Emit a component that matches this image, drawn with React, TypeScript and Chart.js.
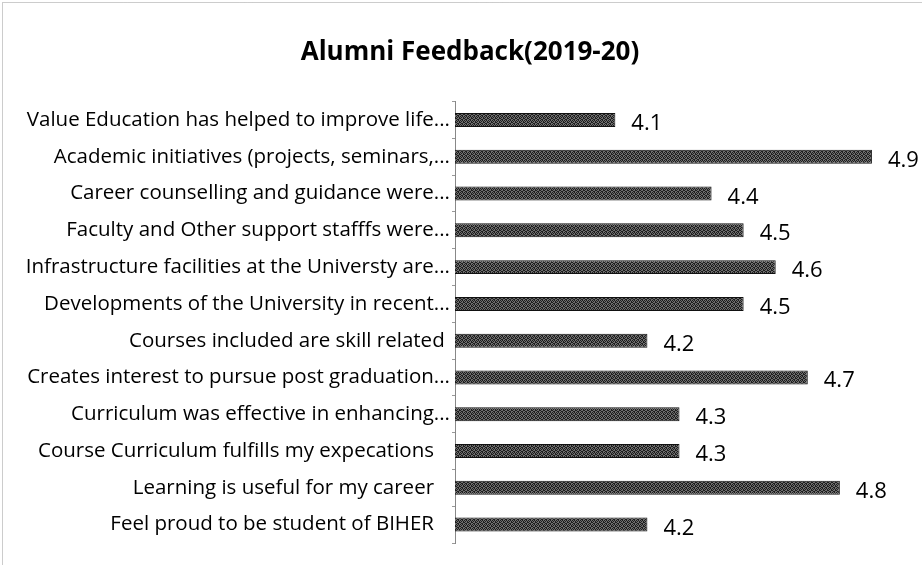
import { useEffect, useRef } from 'react';
import { Chart, registerables } from 'chart.js';

Chart.register(...registerables);

const chartTitle = 'Alumni Feedback(2019-20)';

const categories = [
  'Value Education has helped to improve life...',
  'Academic initiatives (projects, seminars,...',
  'Career counselling and guidance were...',
  'Faculty and Other support stafffs were...',
  'Infrastructure facilities at the Universty are...',
  'Developments of the University in recent...',
  'Courses included are skill related ',
  'Creates interest to pursue post graduation...',
  'Curriculum was effective in enhancing...',
  'Course Curriculum fulfills my expecations   ',
  'Learning is useful for my career   ',
  'Feel proud to be student of BIHER   ',
];

const scores = [4.1, 4.9, 4.4, 4.5, 4.6, 4.5, 4.2, 4.7, 4.3, 4.3, 4.8, 4.2];

const xMin = 3.6;
const xMax = 5.0;

const FONT = "'Open Sans', 'Noto Sans', 'DejaVu Sans', sans-serif";

function makePattern(): CanvasPattern | string {
  const c = document.createElement('canvas');
  c.width = 4;
  c.height = 4;
  const g = c.getContext('2d');
  if (!g) return '#555';
  g.fillStyle = '#6e6e6e';
  g.fillRect(0, 0, 4, 4);
  g.fillStyle = '#1e1e1e';
  g.fillRect(0, 0, 1, 1);
  g.fillRect(2, 0, 1, 1);
  g.fillRect(1, 1, 1, 1);
  g.fillRect(3, 1, 1, 1);
  g.fillRect(0, 2, 1, 1);
  g.fillRect(3, 2, 1, 1);
  g.fillRect(1, 3, 1, 1);
  g.fillRect(2, 3, 1, 1);
  const p = g.createPattern(c, 'repeat');
  return p || '#555';
}

const framePlugin = {
  id: 'frame',
  beforeDraw(chart: any) {
    const ctx = chart.ctx;
    ctx.save();
    ctx.fillStyle = '#fff';
    ctx.fillRect(0, 0, chart.width, chart.height);
    ctx.strokeStyle = '#999';
    ctx.lineWidth = 1;
    ctx.setLineDash([1, 1]);
    ctx.strokeRect(2.5, 2.5, chart.width + 20, chart.height + 20);
    ctx.restore();
  },
};

const titlePlugin = {
  id: 'customTitle',
  afterDraw(chart: any) {
    const ctx = chart.ctx;
    ctx.save();
    ctx.fillStyle = '#000';
    ctx.font = `bold 26px ${FONT}`;
    ctx.textAlign = 'center';
    ctx.textBaseline = 'alphabetic';
    ctx.fillText(chartTitle, 470, 60);
    ctx.restore();
  },
};

const valueLabelPlugin = {
  id: 'valueLabels',
  afterDatasetsDraw(chart: any) {
    const ctx = chart.ctx;
    const meta = chart.getDatasetMeta(0);
    ctx.save();
    ctx.fillStyle = '#000';
    ctx.font = `22px ${FONT}`;
    ctx.textAlign = 'left';
    ctx.textBaseline = 'alphabetic';
    meta.data.forEach((bar: any, i: number) => {
      ctx.fillText(scores[i].toFixed(1), bar.x + 16, bar.y + 10);
    });
    ctx.restore();
  },
};

export default function App() {
  const ref = useRef<HTMLCanvasElement | null>(null);

  useEffect(() => {
    if (!ref.current) return;
    const chart = new Chart(ref.current, {
      type: 'bar',
      data: {
        labels: categories,
        datasets: [
          {
            data: scores,
            backgroundColor: makePattern() as any,
            borderColor: '#111',
            borderWidth: 1,
            borderSkipped: false,
            categoryPercentage: 1,
            barPercentage: 0.38,
          },
        ],
      },
      options: {
        indexAxis: 'y',
        animation: false,
        responsive: false,
        maintainAspectRatio: false,
        layout: { padding: { top: 101.6, bottom: 22, right: 18, left: 0 } },
        plugins: {
          legend: { display: false },
          title: { display: false },
          tooltip: { enabled: false },
        },
        scales: {
          x: {
            type: 'linear',
            min: xMin,
            max: xMax,
            display: false,
          },
          y: {
            type: 'category',
            afterFit: (s: any) => {
              s.width = 455;
            },
            border: { display: true, color: '#888', dash: [2, 2] },
            grid: {
              display: true,
              drawOnChartArea: false,
              drawTicks: true,
              tickLength: 3,
              color: '#999',
            },
            ticks: {
              color: '#000',
              padding: 2,
              autoSkip: false,
              font: { family: FONT, size: 20.5 },
            },
          },
        },
      },
      plugins: [framePlugin, titlePlugin, valueLabelPlugin],
    });
    return () => chart.destroy();
  }, []);

  return (
    <div style={{ position: 'fixed', left: 0, top: 0, width: 922, height: 565 }}>
      <canvas ref={ref} width={922} height={565} style={{ display: 'block' }} />
    </div>
  );
}
